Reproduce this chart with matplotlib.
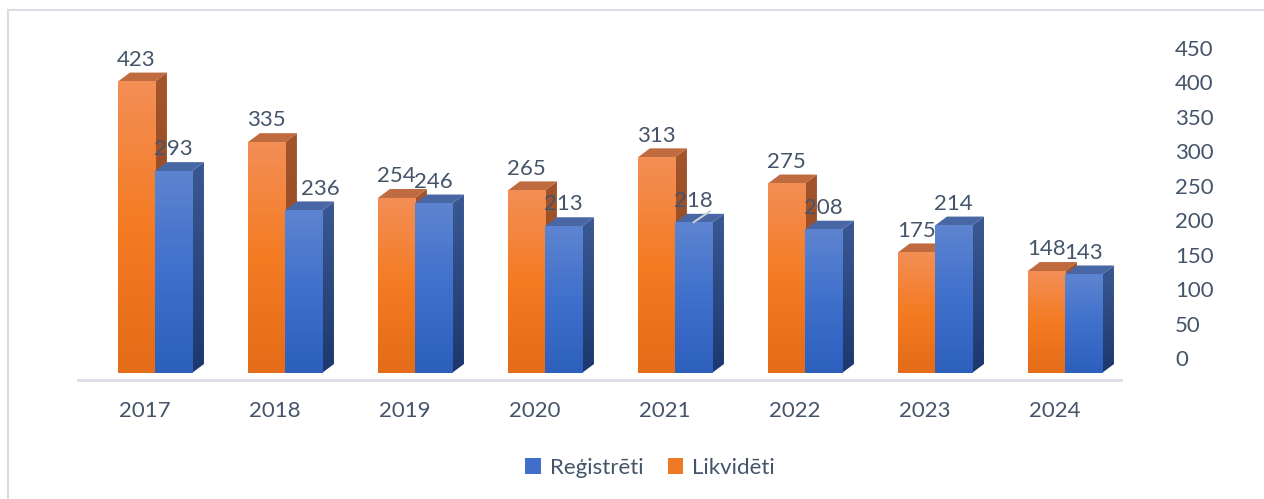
import matplotlib
matplotlib.use("Agg")
import matplotlib.pyplot as plt
import numpy as np
from matplotlib.colors import LinearSegmentedColormap
from matplotlib.patches import Polygon, Patch
from matplotlib.lines import Line2D

years = ["2017", "2018", "2019", "2020", "2021", "2022", "2023", "2024"]
likvideti = [423, 335, 254, 265, 313, 275, 175, 148]
registreti = [293, 236, 246, 213, 218, 208, 214, 143]

plt.rcParams['font.family'] = ['Lato', 'DejaVu Sans']
txt = '#44546A'
fs = 16

W, H = 1264, 499
fig = plt.figure(figsize=(W / 100, H / 100), dpi=100)

# axes placed in pixel terms
ax = fig.add_axes([78 / W, (H - 380) / H, (1121 - 78) / W, (380 - 30) / H])
ylo, yhi = -10.2, 497.8

bw = 0.285   # bar width
dx = 0.092   # depth offset in x
dy = 13.0    # depth offset in y

grad = np.linspace(0, 1, 64).reshape(-1, 1)
styles = {
    'o': dict(front=LinearSegmentedColormap.from_list('o', ['#E56C18', '#F47B22', '#F38E55']),
              side=LinearSegmentedColormap.from_list('os', ['#8A421E', '#A3552C']),
              top='#BF6A3F'),
    'b': dict(front=LinearSegmentedColormap.from_list('b', ['#2D5FBD', '#3F70CC', '#5D84D0']),
              side=LinearSegmentedColormap.from_list('bs', ['#1C386E', '#3A5893']),
              top='#4A67A5'),
}


def bar3d(x0, h, st, z):
    x1 = x0 + bw
    # side face
    side = Polygon([(x1, 0), (x1 + dx, dy), (x1 + dx, h + dy), (x1, h)], closed=True,
                   facecolor='none', edgecolor='none', zorder=z)
    ax.add_patch(side)
    im = ax.imshow(grad, cmap=st['side'], origin='lower', aspect='auto',
                   extent=[x1, x1 + dx, 0, h + dy], zorder=z)
    im.set_clip_path(side)
    # top face
    ax.add_patch(Polygon([(x0, h), (x1, h), (x1 + dx, h + dy), (x0 + dx, h + dy)],
                         closed=True, facecolor=st['top'], edgecolor='none', zorder=z))
    # front face
    ax.imshow(grad, cmap=st['front'], origin='lower', aspect='auto',
              extent=[x0, x1, 0, h], zorder=z + 0.5)


for i in range(len(years)):
    bar3d(i - bw, likvideti[i], styles['o'], 2 + i)
    bar3d(i, registreti[i], styles['b'], 2.6 + i)
    ax.annotate(str(likvideti[i]), (i - bw / 2, likvideti[i] + dy), xytext=(0, 2),
                textcoords='offset points', ha='center', va='bottom',
                fontsize=fs, color=txt, zorder=20)
    # excel nudged the 2018 blue label to the right
    nudge = 12 if years[i] == "2018" else 0
    ax.annotate(str(registreti[i]), (i + bw / 2, registreti[i] + dy), xytext=(nudge, 2),
                textcoords='offset points', ha='center', va='bottom',
                fontsize=fs, color=txt, zorder=20)

# leader line on the 2021 blue label
k = years.index("2021")
ax.plot([k + bw * 0.48, k + bw * 0.97], [registreti[k], registreti[k] + dy * 1.35],
        color='#C9CFD8', lw=1.5, zorder=30, solid_capstyle='butt')

ax.set_xlim(-0.592, 7.431)
ax.set_ylim(ylo, yhi)

for s in ['top', 'right', 'left']:
    ax.spines[s].set_visible(False)
ax.spines['bottom'].set_color('#D9DEE5')
ax.spines['bottom'].set_linewidth(2)
ax.set_yticks([])

# value axis on the right (back wall, shifted up)
ax2 = ax.twinx()
shift = 15 / 0.689
ax2.set_ylim(ylo - shift, yhi - shift)
ax2.set_yticks(np.arange(0, 451, 50))
ax2.tick_params(axis='y', length=0, pad=39, labelsize=fs, labelcolor=txt)
for s in ax2.spines.values():
    s.set_visible(False)

ax.set_xticks(np.arange(len(years)) - 0.077)
ax.set_xticklabels(years, fontsize=fs, color=txt)
ax.tick_params(axis='x', length=0, pad=15)

# chart frame (top and left edges visible)
fig.add_artist(Line2D([8 / W, 8 / W], [0, 1 - 10 / H], color='#D9DEE5', lw=1.5))
fig.add_artist(Line2D([8 / W, 1], [1 - 10 / H, 1 - 10 / H], color='#D9DEE5', lw=1.5))

handles = [Patch(facecolor='#3F6FCB', label='Reģistrēti'),
           Patch(facecolor='#F07A24', label='Likvidēti')]
fig.legend(handles=handles, loc='center', bbox_to_anchor=(650 / W, 1 - 468 / H), ncol=2,
           frameon=False, fontsize=fs, labelcolor=txt, handlelength=0.7, handleheight=0.7,
           handletextpad=0.4, columnspacing=1.1)

fig.savefig('out.png', dpi=100)
